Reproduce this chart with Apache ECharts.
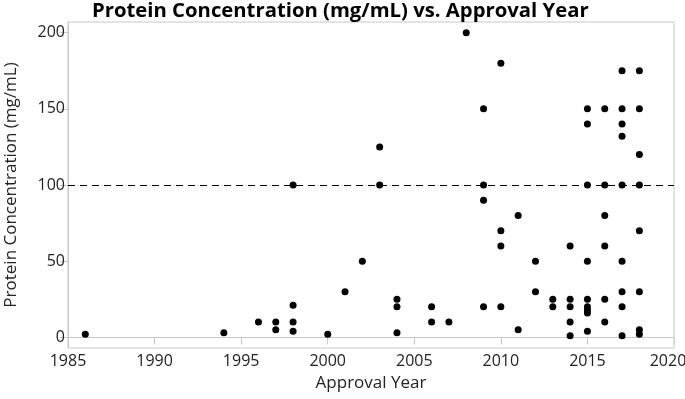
<!DOCTYPE html>
<html>
<head>
<meta charset="utf-8">
<script src="https://cdn.jsdelivr.net/npm/echarts@6/dist/echarts.min.js"></script>
<style>
    html, body { margin: 0; padding: 0; background: #fff; }
    #chart { width: 685px; height: 399px; }
</style>
</head>
<body>
<div id="chart"></div>
<script>
'use strict';
// 年份（每个点一条）
var approvalYear = [
    1986, 1994, 1996, 1997, 1997,
    1998, 1998, 1998, 1998,
    2000, 2001, 2002, 2003, 2003,
    2004, 2004, 2004, 2006, 2006, 2007,
    2008, 2009, 2009, 2009, 2009,
    2010, 2010, 2010, 2010, 2011, 2011,
    2012, 2012, 2013, 2013,
    2014, 2014, 2014, 2014, 2014,
    2015, 2015, 2015, 2015, 2015, 2015, 2015, 2015, 2015,
    2016, 2016, 2016, 2016, 2016, 2016,
    2017, 2017, 2017, 2017, 2017, 2017, 2017, 2017, 2017,
    2018, 2018, 2018, 2018, 2018, 2018, 2018, 2018
];
// 蛋白浓度 mg/mL
var concentration = [
    2, 3, 10, 10, 5,
    100, 21, 10, 4,
    2, 30, 50, 125, 100,
    25, 20, 3, 20, 10, 10,
    200, 150, 100, 90, 20,
    180, 70, 60, 20, 80, 5,
    50, 30, 25, 20,
    60, 25, 20, 10, 1,
    150, 140, 100, 50, 25, 20, 18, 16, 4,
    150, 100, 80, 60, 25, 10,
    175, 150, 140, 132, 100, 50, 30, 20, 1,
    175, 150, 120, 100, 70, 30, 5, 2
];
var xTicks = [1985, 1990, 1995, 2000, 2005, 2010, 2015, 2020];
var yTicks = [0, 50, 100, 150, 200];
var refLine = 100;

var FONT = 'Open Sans';
var points = approvalYear.map(function (y, i) {
    return [y, concentration[i]];
});

var chart = echarts.init(document.getElementById('chart'));
var option = {
    animation: false,
    title: {
        text: 'Protein Concentration (mg/mL) vs. Approval Year',
        left: 87,
        top: -4,
        textStyle: { fontFamily: FONT, fontWeight: 'bold', fontSize: 20.3, color: '#000' }
    },
    grid: {
        left: 68, right: 11, top: 22, bottom: 51,
        outerBoundsMode: 'none',
        containLabel: false,
        show: true, borderColor: '#c8c8c8', borderWidth: 1
    },
    xAxis: {
        type: 'value',
        min: xTicks[0],
        max: xTicks[xTicks.length - 1],
        interval: 5,
        name: 'Approval Year',
        nameLocation: 'middle',
        nameGap: 27,
        nameTextStyle: { fontFamily: FONT, fontSize: 17, color: '#222' },
        axisLine: { lineStyle: { color: '#c8c8c8' } },
        axisTick: { length: 7, lineStyle: { color: '#c8c8c8' } },
        axisLabel: {
            fontFamily: FONT, fontSize: 16, color: '#222', margin: 5,
            formatter: function (v) {
                // 最后一个刻度往左挪一点，避免被裁掉
                return v === xTicks[xTicks.length - 1] ? '{last|' + v + '}' : String(v);
            },
            rich: {
                last: { fontFamily: FONT, fontSize: 16, color: '#222', padding: [0, 12, 0, 0] }
            }
        },
        splitLine: { show: false }
    },
    yAxis: {
        type: 'value',
        min: -7,
        max: 207,
        name: 'Protein Concentration (mg/mL)',
        nameLocation: 'middle',
        nameGap: 48,
        nameTextStyle: { fontFamily: FONT, fontSize: 17, color: '#222' },
        axisLine: { show: true, lineStyle: { color: '#c8c8c8' } },
        axisTick: { show: true, length: 8, customValues: yTicks, lineStyle: { color: '#c8c8c8' } },
        axisLabel: { fontFamily: FONT, fontSize: 16, color: '#222', margin: 3, customValues: yTicks },
        splitLine: { show: false }
    },
    series: [{
        type: 'scatter',
        data: points,
        symbolSize: 7,
        itemStyle: { color: '#000', opacity: 1 },
        markLine: {
            silent: true,
            symbol: 'none',
            label: { show: false },
            lineStyle: { color: '#000', type: [7, 5], width: 1.2, opacity: 1 },
            data: [{ yAxis: refLine }]
        }
    }]
};
chart.setOption(option);
</script>
</body>
</html>
